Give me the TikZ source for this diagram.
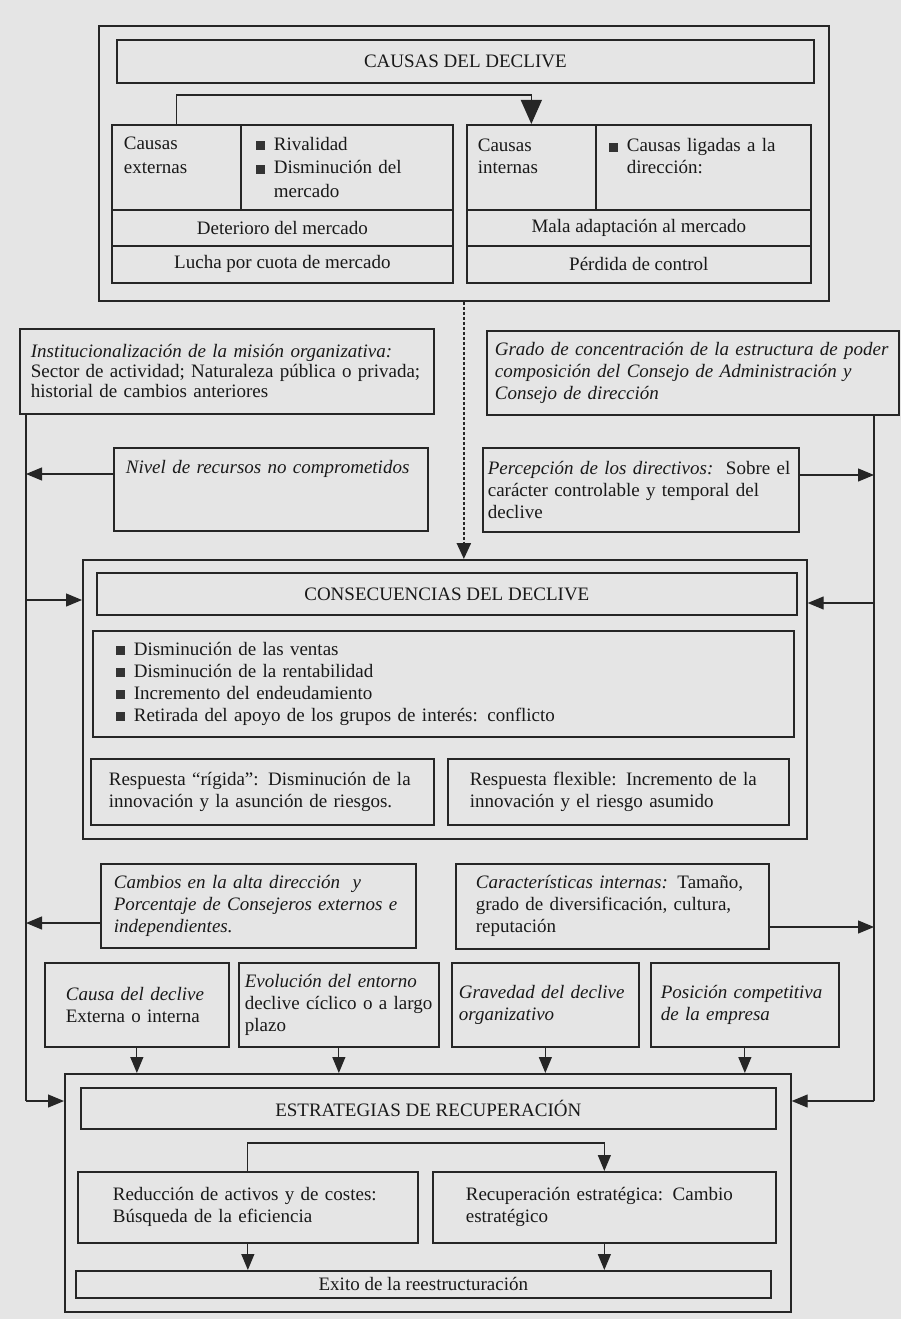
\documentclass[tikz,border=0pt]{standalone}
\usepackage{fontspec}
\setmainfont{Liberation Serif}
\usetikzlibrary{arrows.meta}
\newcommand{\vineta}{{\color{black!80}\rule[0pt]{9pt}{9pt}}\hspace{9pt}}
\hyphenpenalty=10000

\begin{document}
\begin{tikzpicture}[x=1pt, y=-1pt, font=\fontsize{19}{22}\selectfont,
    caja/.style={draw=black!85, text=black!90, line width=1.7pt, anchor=north west, inner sep=0pt, align=left},
    cursiva/.style={font=\fontsize{19}{22}\selectfont\itshape},
    flecha/.style={draw=black!85, line width=1.2pt, -{Triangle[length=16pt,width=13pt]}},
    linea/.style={draw=black!85, line width=1.2pt}]
    \useasboundingbox (0,0) rectangle (901,1319);
    \fill[black!10] (0,0) rectangle (901,1319);

    % causas del declive
    \node[caja, minimum width=730, minimum height=275] (outA) at (98,25) {};
    \node[caja, align=center, minimum width=697, minimum height=43] (titA) at (116,39) {CAUSAS DEL DECLIVE};
    \node[caja, minimum width=129, minimum height=85, text width=105, font=\fontsize{19}{24}\selectfont] (extlab) at (111,124) {Causas\\ externas\\ \mbox{}};
    \node[caja, minimum width=212, minimum height=85, text width=182, font=\fontsize{19}{23.5}\selectfont] (extlist) at (240,124) {\vineta Rivalidad\\ \vineta Disminución del\\ \hspace*{18pt}mercado};
    \node[caja, align=center, minimum width=341, minimum height=36] (deter) at (111,209) {Deterioro del mercado};
    \node[caja, align=center, minimum width=341, minimum height=37] (lucha) at (111,245) {Lucha por cuota de mercado};
    \node[caja, minimum width=129, minimum height=85, text width=107, font=\fontsize{19}{22}\selectfont] (intlab) at (466,124) {Causas\\ internas\\ \mbox{}};
    \node[caja, minimum width=215, minimum height=85, text width=189] (intlist) at (595,124) {\vineta Causas ligadas a la\\ \hspace*{18pt}dirección:\\ \mbox{}};
    \node[caja, align=center, minimum width=344, minimum height=36] (malad) at (466,209) {Mala adaptación al mercado};
    \node[caja, align=center, minimum width=344, minimum height=37] (perd) at (466,245) {Pérdida de control};
    \draw[flecha, -{Triangle[length=24pt,width=21pt]}] (extlab.north) -- ++(0,-29) -| (intlab.north);

    % factores intermedios
    \node[caja, minimum width=414, minimum height=85, text width=392, font=\fontsize{19}{20}\selectfont] (instit) at (19,328) {\textit{Institucionalización de la misión organizativa:}\\ Sector de actividad; Naturaleza pública o privada;\\ historial de cambios anteriores};
    \node[caja, cursiva, minimum width=412, minimum height=84, text width=396] (grado) at (486,330) {Grado de concentración de la estructura de poder\\ composición del Consejo de Administración y\\ Consejo de dirección};
    \node[caja, cursiva, minimum width=314, minimum height=83, text width=290] (nivel) at (113,447) {\mbox{Nivel de recursos no comprometidos}\\ \mbox{}\\ \mbox{}};
    \node[caja, minimum width=316, minimum height=84, text width=306] (percep) at (482,447) {\textit{Percepción de los directivos:}\ \ Sobre el\\ carácter controlable y temporal del\\ declive};

    \coordinate (iz1) at (26,474);
    \coordinate (iz2) at (26,600);
    \coordinate (iz3) at (26,923);
    \coordinate (iz4) at (26,1101);
    \coordinate (de1) at (874,475);
    \coordinate (de2) at (874,603);
    \coordinate (de3) at (874,927);
    \coordinate (de4) at (874,1101);
    \draw[linea] (instit.south -| iz1) -- (iz4);
    \draw[linea] (grado.south -| de1) -- (de4);

    % consecuencias del declive
    \node[caja, minimum width=724, minimum height=279] (outC) at (82,559) {};
    \node[caja, align=center, minimum width=700, minimum height=42] (titC) at (96,572) {CONSECUENCIAS DEL DECLIVE};
    \node[caja, minimum width=701, minimum height=106, text width=655] (listaC) at (92,630) {\vineta Disminución de las ventas\\ \vineta Disminución de la rentabilidad\\ \vineta Incremento del endeudamiento\\ \vineta Retirada del apoyo de los grupos de interés: conflicto};
    \node[caja, minimum width=343, minimum height=66, text width=307] (rigida) at (90,758) {Respuesta “rígida”: Disminución de la\\ innovación y la asunción de riesgos.};
    \node[caja, minimum width=341, minimum height=66, text width=297] (flexible) at (447,758) {Respuesta flexible: Incremento de la\\ innovación y el riesgo asumido};

    \draw[line width=2.5pt, draw=black!85, dash pattern=on 3pt off 2pt, -{Triangle[length=16pt,width=14pt]}] (outA.south) -- (outA.south |- outC.north);
    \draw[flecha] (nivel.west |- iz1) -- (iz1);
    \draw[flecha] (percep.east |- de1) -- (de1);
    \draw[flecha] (iz2) -- (iz2 -| outC.west);
    \draw[flecha] (de2) -- (de2 -| outC.east);

    % factores de la respuesta
    \node[caja, cursiva, minimum width=315, minimum height=84, text width=289] (cambios) at (100,863) {Cambios en la alta dirección\ \ y\\ Porcentaje de Consejeros externos e\\ independientes.};
    \node[caja, minimum width=313, minimum height=85, text width=273] (caract) at (455,863) {\textit{Características internas:} Tamaño,\\ grado de diversificación, cultura,\\ reputación};
    \node[caja, minimum width=184, minimum height=84, text width=142] (causa) at (44,962) {\textit{Causa del declive}\\ Externa o interna};
    \node[caja, minimum width=200, minimum height=84, text width=188] (evol) at (238,962) {\textit{Evolución del entorno}\\ declive cíclico o a largo\\ plazo};
    \node[caja, cursiva, minimum width=187, minimum height=84, text width=173] (grav) at (451,962) {Gravedad del declive\\ organizativo};
    \node[caja, cursiva, minimum width=188, minimum height=84, text width=168] (posic) at (650,962) {Posición competitiva\\ de la empresa};
    \draw[flecha] (cambios.west |- iz3) -- (iz3);
    \draw[flecha] (caract.east |- de3) -- (de3);

    % estrategias de recuperacion
    \node[caja, minimum width=726, minimum height=238] (outE) at (64,1073) {};
    \node[caja, align=center, minimum width=695, minimum height=41] (titE) at (80,1087) {ESTRATEGIAS DE RECUPERACIÓN};
    \node[caja, minimum width=340, minimum height=71, text width=270] (reduc) at (77,1171) {Reducción de activos y de costes:\\ Búsqueda de la eficiencia};
    \node[caja, minimum width=343, minimum height=71, text width=277] (recup) at (432,1171) {Recuperación estratégica: Cambio\\ estratégico};
    \node[caja, align=center, minimum width=695, minimum height=27] (exito) at (75,1270) {Exito de la reestructuración};

    \draw[flecha] (causa.south) -- (causa.south |- outE.north);
    \draw[flecha] (evol.south) -- (evol.south |- outE.north);
    \draw[flecha] (grav.south) -- (grav.south |- outE.north);
    \draw[flecha] (posic.south) -- (posic.south |- outE.north);
    \draw[flecha] (iz4) -- (iz4 -| outE.west);
    \draw[flecha] (de4) -- (de4 -| outE.east);
    \draw[flecha] (reduc.north) -- ++(0,-28) -| (recup.north);
    \draw[flecha] (reduc.south) -- (reduc.south |- exito.north);
    \draw[flecha] (recup.south) -- (recup.south |- exito.north);
\end{tikzpicture}
\end{document}
